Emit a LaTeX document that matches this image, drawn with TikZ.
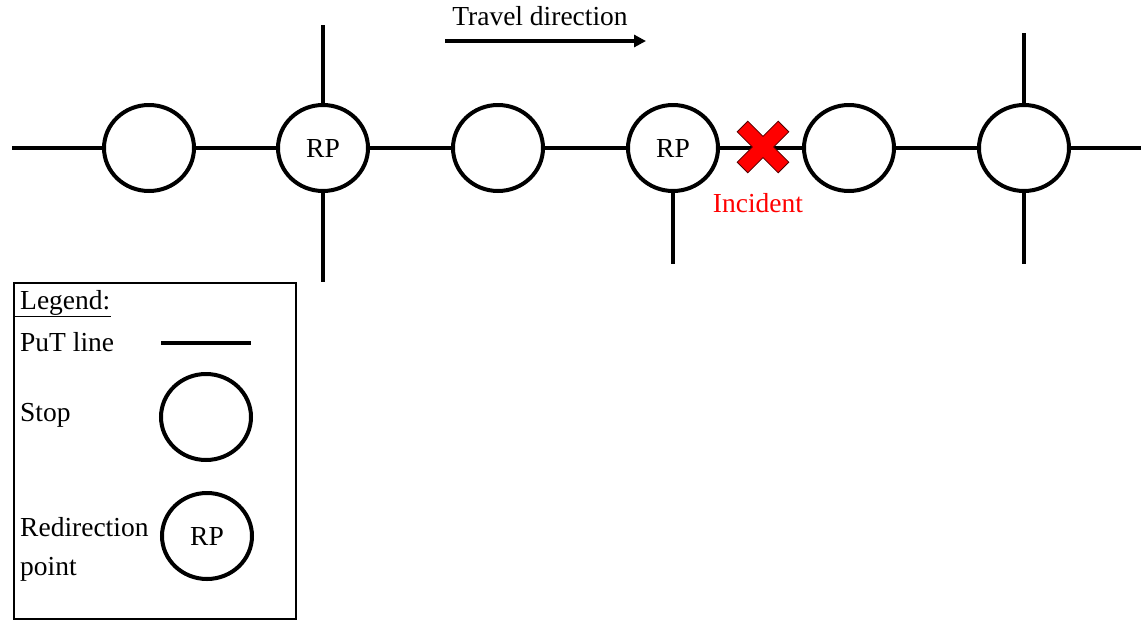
\documentclass[tikz,border=0pt]{standalone}
\usepackage{fontspec}
\setmainfont{Liberation Serif}
\usetikzlibrary{shapes.geometric,arrows.meta}
\begin{document}
\begin{tikzpicture}[x=1pt,y=-1pt,
  every node/.style={font=\fontsize{27.5}{32}\selectfont},
  put/.style={line width=4pt},
  stopnode/.style={draw,line width=4pt,ellipse,minimum width=90pt,minimum height=86pt,inner sep=0pt,fill=white},
  lbl/.style={anchor=west,inner sep=0pt}]
\useasboundingbox (0,0) rectangle (1141,622);
% network line
\coordinate (w) at (12,148);
\coordinate (e) at (1141,148);
\draw[put] (w) -- (e);
% stops and redirection points
\node[stopnode] (s1) at (149,148) {};
\node[stopnode] (r1) at (323,148) {RP};
\node[stopnode] (s2) at (498,148) {};
\node[stopnode] (r2) at (673,148) {RP};
\node[stopnode] (s3) at (849,148) {};
\node[stopnode] (s4) at (1024,148) {};
% crossing branches
\coordinate (r1n) at (323,25);
\coordinate (r1s) at (323,282);
\coordinate (r2s) at (673,264);
\coordinate (s4n) at (1024,33);
\coordinate (s4s) at (1024,264);
\draw[put] (r1.north) -- (r1n);
\draw[put] (r1.south) -- (r1s);
\draw[put] (r2.south) -- (r2s);
\draw[put] (s4.north) -- (s4n);
\draw[put] (s4.south) -- (s4s);
% travel direction
\coordinate (ta) at (445,41);
\coordinate (tb) at (646,41);
\draw[line width=4pt,-{Triangle[length=12pt,width=12pt]}] (ta) -- (tb);
\node (travel) at (540,16) {Travel direction};
% incident marker
\begin{scope}[shift={(763,147)},rotate=45]
  \draw[fill=red,draw=black!70!red,line width=0.8pt]
    (-7.5,-29) -- (7.5,-29) -- (7.5,-7.5) -- (29,-7.5) -- (29,7.5) -- (7.5,7.5) -- (7.5,29)
    -- (-7.5,29) -- (-7.5,7.5) -- (-29,7.5) -- (-29,-7.5) -- (-7.5,-7.5) -- cycle;
\end{scope}
\node[text=red] (incident) at (758,203) {Incident};
% legend
\node[draw,line width=1.2pt,minimum width=282pt,minimum height=336pt,inner sep=0pt] (legend) at (155,451) {};
\node[lbl] (lt) at (20,303) {Legend:};
\draw[line width=1pt] (legend.west |- 0,316) -- (lt.east |- 0,316);
\node[lbl] (l1) at (20,342) {PuT line};
\coordinate (la) at (161,343);
\coordinate (lb) at (251,343);
\draw[put] (la) -- (lb);
\node[lbl] (l2) at (20,415) {Stop};
\node[stopnode] (ls) at (206,417) {};
\node[lbl,align=left,font=\fontsize{27.5}{39}\selectfont] (l3) at (20,549) {Redirection\\point};
\node[stopnode] (lr) at (207,536) {RP};
\end{tikzpicture}
\end{document}
